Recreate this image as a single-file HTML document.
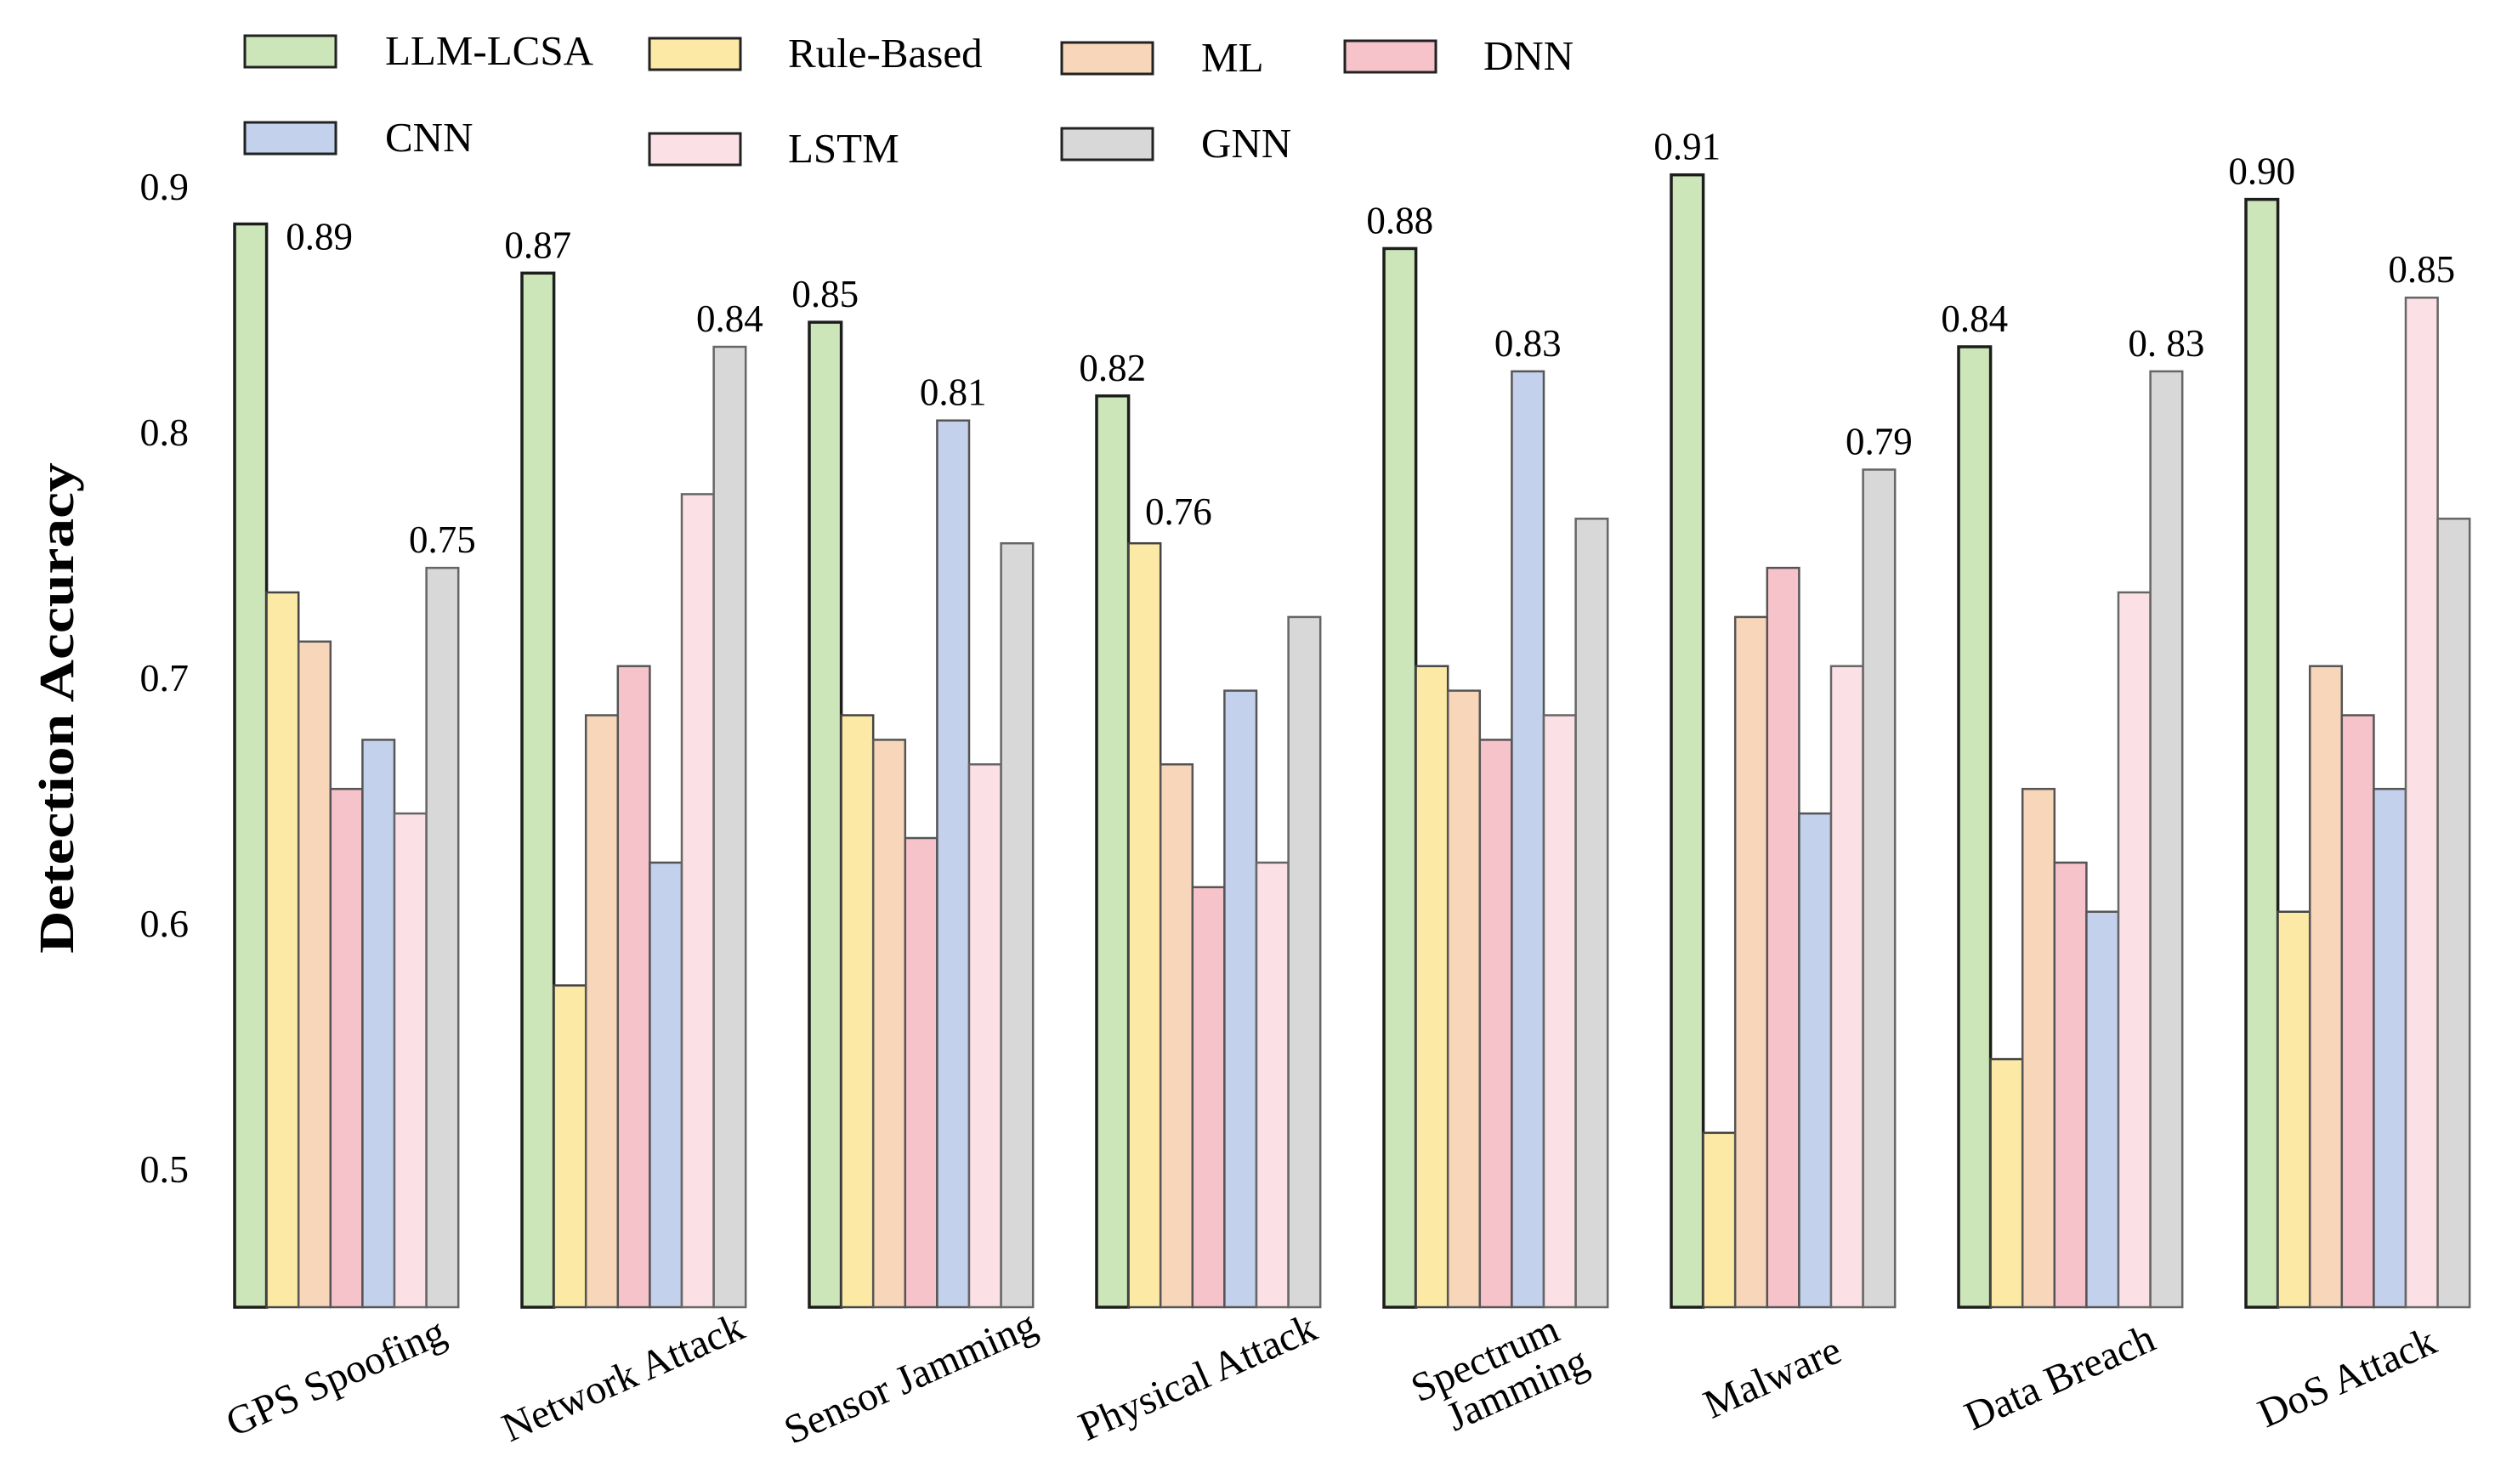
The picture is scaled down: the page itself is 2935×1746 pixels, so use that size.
<!DOCTYPE html>
<html><head><meta charset="utf-8"><style>
html,body{margin:0;padding:0;background:#fff;}
svg{display:block;font-family:"Liberation Serif",serif;}
</style></head><body>
<svg id="chart" width="2935" height="1746" viewBox="0 0 2935 1746" xmlns="http://www.w3.org/2000/svg">
<text x="0" y="0" transform="translate(86,833) rotate(-90) scale(1.2,1)" text-anchor="middle" font-size="58" font-weight="bold">Detection  Accuracy</text>
<g id="legend"></g>
<g id="yticks"></g>
<g id="bars"></g>
<g id="labels"></g>
<g id="xlabels"></g>
</svg>
<script>
const categories = ["GPS Spoofing","Network Attack","Sensor Jamming","Physical Attack","Spectrum|Jamming","Malware","Data Breach","DoS Attack"];
const seriesNames = ["LLM-LCSA","Rule-Based","ML","DNN","CNN","LSTM","GNN"];
const llm   = [0.885,0.865,0.845,0.815,0.875,0.905,0.835,0.895];
const rule  = [0.735,0.575,0.685,0.755,0.705,0.515,0.545,0.605];
const ml    = [0.715,0.685,0.675,0.665,0.695,0.725,0.655,0.705];
const dnn   = [0.655,0.705,0.635,0.615,0.675,0.745,0.625,0.685];
const cnn   = [0.675,0.625,0.805,0.695,0.825,0.645,0.605,0.655];
const lstm  = [0.645,0.775,0.665,0.625,0.685,0.705,0.735,0.855];
const gnn   = [0.745,0.835,0.755,0.725,0.765,0.785,0.825,0.765];
const yTicks = [0.5,0.6,0.7,0.8,0.9];
const yTickLabels = ["0.5","0.6","0.7","0.8","0.9"];
// annotations: [category index, series index, text]
const annCat = [0,0,1,1,2,2,3,3,4,4,5,5,6,6,7,7];
const annSer = [0,6,0,6,0,4,0,1,0,4,0,6,0,6,0,5];
const annText = ["0.89","0.75","0.87","0.84","0.85","0.81","0.82","0.76","0.88","0.83","0.91","0.79","0.84","0. 83","0.90","0.85"];

const series = [llm,rule,ml,dnn,cnn,lstm,gnn];
const fills = ["#cde6b9","#fde9a6","#f8d6b9","#f6c3cb","#c3d1ec","#fbe1e5","#d8d8d8"];
const strokes = ["#1d1d1d","#444","#555","#555","#555","#666","#666"];
const NS="http://www.w3.org/2000/svg";
const yMin=0.444, y0px=1538, pxPer=2890;
function yS(v){return y0px-(v-yMin)*pxPer;}
const gStart=276, gStep=338, bw=37.6;
function xS(c,s){return gStart+c*gStep+s*bw;}
function mk(tag,attrs,parent){const e=document.createElementNS(NS,tag);for(const k in attrs)e.setAttribute(k,attrs[k]);parent.appendChild(e);return e;}

const yt=document.getElementById('yticks');
yTicks.forEach((t,i)=>{
  const e=mk('text',{x:222,y:yS(t)+15,'text-anchor':'end','font-size':46},yt);
  
  
  e.textContent=yTickLabels[i];
});

const bg=document.getElementById('bars');
categories.forEach((c,ci)=>{
  series.forEach((arr,si)=>{
    const top=yS(arr[ci]);
    const r=mk('rect',{x:xS(ci,si),y:top,width:bw,height:y0px-top,fill:fills[si],stroke:strokes[si],'stroke-width':si===0?3.5:2.5},bg);
    
    
  });
});

const lg=document.getElementById('labels');
annText.forEach((t,i)=>{
  const ci=annCat[i], si=annSer[i];
  const v=series[si][ci];
  let x, y=yS(v)-18;
  if(ci===0&&si===0){x=xS(ci,si)+bw+62;y=yS(v)+30;}
  else if(ci===3&&si===1){x=xS(ci,si)+bw/2+40;y=yS(v)-22;}
  else x=xS(ci,si)+bw/2;
  const e=mk('text',{x:x,y:y,'text-anchor':'middle','font-size':45},lg);
  
  
  e.textContent=t;
});

const xl=document.getElementById('xlabels');
categories.forEach((c,ci)=>{
  const cx=gStart+ci*gStep+3.5*bw-12;
  const parts=c.split('|');
  const g=mk('g',{transform:`translate(${cx},${parts.length>1?1600:1622}) rotate(-24)`},xl);
  
  
  parts.forEach((p,pi)=>{
    const e=mk('text',{x:pi*20,y:pi*48+14,'text-anchor':'middle','font-size':48},g);
    e.textContent=p;
  });
});

const legendPos=[[288,42,453],[764,45,927],[1249,50,1413],[1582,48,1745],[288,144,453],[764,157,927],[1249,151,1413]];
const lgd=document.getElementById('legend');
seriesNames.forEach((n,i)=>{
  const [sx,sy,tx]=legendPos[i];
  const g=mk('g',{},lgd);
  
  
  mk('rect',{x:sx,y:sy,width:107,height:37,fill:fills[i],stroke:'#222','stroke-width':3},g);
  const t=mk('text',{x:tx,y:sy+34,'font-size':49},g);
  t.textContent=n;
});
</script>
</body></html>
